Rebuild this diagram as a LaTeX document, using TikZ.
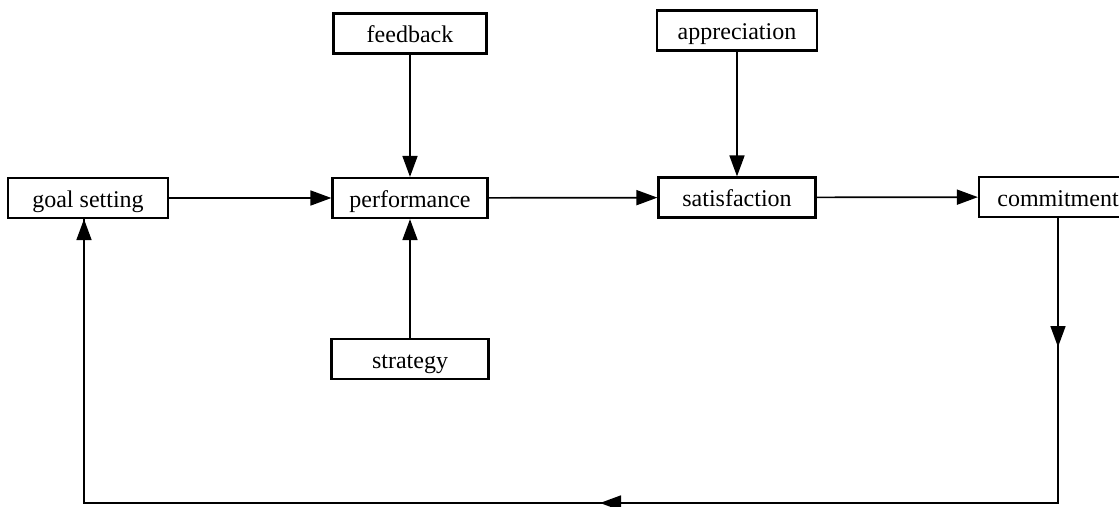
\documentclass[tikz,border=0pt]{standalone}
\usepackage{fontspec}
\setmainfont{Liberation Serif}
\usetikzlibrary{arrows.meta}
\begin{document}
\begin{tikzpicture}[x=1pt,y=-1pt,
  stagebox/.style={draw, line width=2.2pt, minimum height=40pt, inner sep=0pt,
    text height=18pt, text depth=0pt,
    font=\fontsize{24}{28}\selectfont},
  link/.style={line width=1.7pt},
  arr/.style={link, -{Triangle[length=21pt,width=15pt]}}]
\clip (0,0) rectangle (1119,506);
\fill[white] (0,0) rectangle (1119,506);

% main chain
\node[stagebox, minimum width=160pt] (goal) at (88,198) {goal setting};
\node[stagebox, minimum width=155pt] (perf) at (410,198) {performance};
\node[stagebox, minimum width=157pt] (sat) at (737,197.5) {satisfaction};
\node[stagebox, minimum width=158pt] (commit) at (1058,197) {commitment};

% influences
\node[stagebox, minimum width=153pt] (feed) at (410,33.5) {feedback};
\node[stagebox, minimum width=160pt] (appr) at (737,30.5) {appreciation};
\node[stagebox, minimum width=157pt] (strat) at (410,359) {strategy};

\draw[arr] (goal) -- (perf);
\draw[arr] (perf) -- (sat);
\draw[arr] (sat) -- (commit);
\draw[arr] (feed) -- (perf);
\draw[arr] (strat) -- (perf);
\draw[arr] (appr) -- (sat);

% feedback loop back to goal setting
\coordinate (br) at (1058,503);
\coordinate (bl) at (84,503);
\coordinate (rm) at (1058,347);
\coordinate (bm) at (600,503);
\draw[link, line join=miter] (commit.south) -- (br) -- (bl) -- (bl |- goal.south);
\draw[arr] (commit.south) -- (rm);
\draw[arr] (br) -- (bm);
\draw[arr] (bl) -- (bl |- goal.south);
\end{tikzpicture}
\end{document}
